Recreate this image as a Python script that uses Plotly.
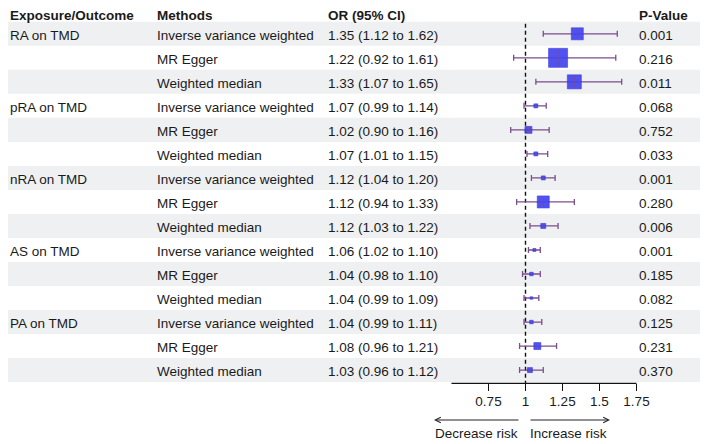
import plotly.graph_objects as go

# ---------------- data ----------------
exposures = ["RA on TMD", "", "", "pRA on TMD", "", "", "nRA on TMD", "", "",
             "AS on TMD", "", "", "PA on TMD", "", ""]
methods = ["Inverse variance weighted", "MR Egger", "Weighted median"] * 5
or_vals = [1.35, 1.22, 1.33, 1.07, 1.02, 1.07, 1.12, 1.12, 1.12,
           1.06, 1.04, 1.04, 1.04, 1.08, 1.03]
ci_low = [1.12, 0.92, 1.07, 0.99, 0.90, 1.01, 1.04, 0.94, 1.03,
          1.02, 0.98, 0.99, 0.99, 0.96, 0.96]
ci_high = [1.62, 1.61, 1.65, 1.14, 1.16, 1.15, 1.20, 1.33, 1.22,
           1.10, 1.10, 1.09, 1.11, 1.21, 1.12]
p_values = ["0.001", "0.216", "0.011", "0.068", "0.752", "0.033", "0.001", "0.280",
            "0.006", "0.001", "0.185", "0.082", "0.125", "0.231", "0.370"]
box_sizes = [12, 19, 14, 4, 7, 4, 4, 12, 5, 3, 3.5, 2.5, 3.5, 7, 5]
headers = ["Exposure/Outcome", "Methods", "OR (95% CI)", "P-Value"]
tick_vals = [0.75, 1, 1.25, 1.5, 1.75]
tick_text = ["0.75", "1", "1.25", "1.5", "1.75"]
axis_limits = [0.5, 1.75]
ref_value = 1

# ---------------- layout constants ----------------
OFF = 8                      # page body margin
W, H = 708 - OFF, 444 - OFF
n = len(or_vals)
rows = list(range(n))
row0_px, row_h = 33.8 - OFF, 24.02
x1_px, px_per_unit = 525.5 - OFF, 148.0
col_px = [10 - OFF, 157 - OFF, 328 - OFF, 638.5 - OFF]
FONT = "Liberation Sans, Arial, sans-serif"
TXT = "#1a1a1a"
FS = 13.5
BAND = "#EFF0F1"
CI_COL = "#7B4E8E"
BOX_COL = "#4444EE"
TEXT_SHIFT = -1.5
HEADER_SHIFT = -6

y_top = -row0_px / row_h
y_bot = (H - row0_px) / row_h
x_left = ref_value - x1_px / px_per_unit
x_right = ref_value + (W - x1_px) / px_per_unit
axis_px = 383.3 - OFF
axis_y = (axis_px - row0_px) / row_h

def px2x(p):
    return ref_value + (p - OFF - x1_px) / px_per_unit

def px2y(p):
    return (p - OFF - row0_px) / row_h

ci_text = [f"{o:.2f} ({l:.2f} to {h:.2f})" for o, l, h in zip(or_vals, ci_low, ci_high)]

fig = go.Figure()

# CI + boxes
fig.add_trace(go.Scatter(
    x=or_vals, y=rows, mode="markers",
    marker=dict(symbol="square", size=box_sizes, color=BOX_COL, opacity=0.92,
                line=dict(color="#2F2FD6", width=0.6)),
    error_x=dict(type="data", symmetric=False,
                 array=[h - o for h, o in zip(ci_high, or_vals)],
                 arrayminus=[o - l for o, l in zip(or_vals, ci_low)],
                 color=CI_COL, thickness=1.3, width=3),
    hoverinfo="skip", showlegend=False))
# centre tick inside boxes
fig.add_trace(go.Scatter(
    x=or_vals, y=rows, mode="markers",
    marker=dict(symbol="line-ns", size=[s / 1.4 * 0.85 for s in box_sizes],
                line=dict(color=CI_COL, width=1)),
    hoverinfo="skip", showlegend=False))

shapes = []
# alternating bands
for i in rows:
    if i % 2 == 0:
        shapes.append(dict(type="rect", xref="paper", yref="y", x0=0, x1=1,
                           y0=i - 0.5, y1=i + 0.5, fillcolor=BAND,
                           line=dict(width=0), layer="below"))
# reference dashed line
shapes.append(dict(type="line", xref="x", yref="y", x0=ref_value, x1=ref_value,
                   y0=-0.42, y1=axis_y, line=dict(color="#111111", width=1.4, dash="4px,3px"),
                   layer="below"))
# axis line
shapes.append(dict(type="line", xref="x", yref="y", x0=axis_limits[0], x1=axis_limits[1],
                   y0=axis_y, y1=axis_y, line=dict(color="#111111", width=1.3)))

ann = []
for j, h in enumerate(headers):
    ann.append(dict(x=col_px[j] / W, xref="paper", y=-1, yref="y", text=f"<b>{h}</b>",
                    showarrow=False, xanchor="left", yanchor="middle", yshift=HEADER_SHIFT,
                    borderpad=0, borderwidth=0, font=dict(size=FS, color=TXT, family=FONT)))
for i in rows:
    for j, t in enumerate([exposures[i], methods[i], ci_text[i], p_values[i]]):
        if not t:
            continue
        ann.append(dict(x=col_px[j] / W, xref="paper", y=i, yref="y", text=t,
                        showarrow=False, xanchor="left", yanchor="middle", yshift=TEXT_SHIFT,
                        borderpad=0, borderwidth=0, font=dict(size=FS, color=TXT, family=FONT)))

# direction arrows
arrow_y = px2y(420)
lbl_y = px2y(433.5)
ann.append(dict(x=px2x(434), y=arrow_y, ax=px2x(520), ay=arrow_y, xref="x", yref="y",
                axref="x", ayref="y", showarrow=True, arrowhead=5, arrowsize=1.1,
                arrowwidth=1, arrowcolor="#222222", text=""))
ann.append(dict(x=px2x(610), y=arrow_y, ax=px2x(529), ay=arrow_y, xref="x", yref="y",
                axref="x", ayref="y", showarrow=True, arrowhead=5, arrowsize=1.1,
                arrowwidth=1, arrowcolor="#222222", text=""))
ann.append(dict(x=px2x(476.5), y=lbl_y, xref="x", yref="y", text="Decrease risk",
                showarrow=False, xanchor="center", yanchor="middle",
                borderpad=0, borderwidth=0,
                font=dict(size=FS, color=TXT, family=FONT)))
ann.append(dict(x=px2x(568.5), y=lbl_y, xref="x", yref="y", text="Increase risk",
                showarrow=False, xanchor="center", yanchor="middle",
                borderpad=0, borderwidth=0,
                font=dict(size=FS, color=TXT, family=FONT)))

fig.update_layout(
    width=W, height=H, margin=dict(l=0, r=0, t=0, b=0),
    paper_bgcolor="white", plot_bgcolor="white",
    shapes=shapes, annotations=ann,
    xaxis=dict(domain=[0, 1], range=[x_left, x_right], anchor="free",
               position=1 - axis_px / H, showgrid=False, zeroline=False, showline=False,
               tickmode="array", tickvals=tick_vals, ticktext=tick_text,
               ticks="outside", ticklen=7, tickwidth=1.3, tickcolor="#111111",
               ticklabelstandoff=-2,
               tickfont=dict(size=FS, color=TXT, family=FONT)),
    yaxis=dict(domain=[0, 1], range=[y_bot, y_top], visible=False),
)

fig.write_html("out.html")
